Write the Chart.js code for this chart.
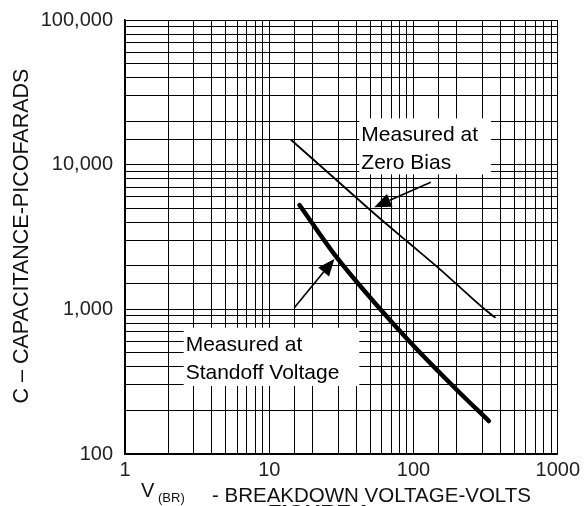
<!DOCTYPE html>
<html>
<head>
<meta charset="utf-8">
<script src="https://cdn.jsdelivr.net/npm/chart.js@4.4.0/dist/chart.umd.min.js"></script>
<style>
  html, body { margin: 0; padding: 0; background: #fff; }
  #wrap { width: 584px; height: 506px; position: relative; }
</style>
</head>
<body>
<div id="wrap"><canvas id="chart"></canvas></div>
<script>
// axis labels shown on the log decades
const xTicks = [1, 10, 100, 1000];
const yTicks = [100, 1000, 10000, 100000];

// curves (volts, picofarads)
const zeroBiasV = [14.2, 26.1, 54.9, 90.8, 150, 316, 367];
const zeroBiasC = [14810, 8660, 4490, 2930, 1920, 989, 881];
const standoffV = [16.2, 29.1, 57.9, 95.9, 200, 333];
const standoffC = [5260, 2310, 1020, 585, 277, 169];

// callouts: white box (x1, x2, y1, y2 in data units) + arrow tail/tip
const notes = [
    { lines: ['Measured at', 'Zero Bias'], box: [42.1, 344, 20900, 8570], from: [131.8, 7570], to: [53.4, 5080] },
    { lines: ['Measured at', 'Standoff Voltage'], box: [2.55, 42.1, 745, 295], from: [14.96, 1031], to: [28.3, 2232] },
];

const FONT = '"Liberation Sans", Arial, sans-serif';

function toPoints(xs, ys) {
    return xs.map((v, i) => ({ x: v, y: ys[i] }));
}

const notesPlugin = {
    id: 'notes',
    beforeDatasetsDraw(chart) {
        const { ctx, scales: { x, y } } = chart;
        ctx.save();
        ctx.fillStyle = '#fff';
        notes.forEach(n => {
            const l = x.getPixelForValue(n.box[0]), r = x.getPixelForValue(n.box[1]);
            const t = y.getPixelForValue(n.box[2]), b = y.getPixelForValue(n.box[3]);
            ctx.fillRect(l, t, r - l, b - t);
        });
        ctx.restore();
    },
    afterDatasetsDraw(chart) {
        const { ctx, scales: { x, y } } = chart;
        ctx.save();
        ctx.fillStyle = '#000';
        ctx.strokeStyle = '#000';
        ctx.font = '21px ' + FONT;
        ctx.textBaseline = 'alphabetic';
        notes.forEach(n => {
            const l = x.getPixelForValue(n.box[0]);
            const t = y.getPixelForValue(n.box[2]);
            n.lines.forEach((s, i) => ctx.fillText(s, l + 2, t + 23 + i * 28));

            // arrow
            const x0 = x.getPixelForValue(n.from[0]), y0 = y.getPixelForValue(n.from[1]);
            const x1 = x.getPixelForValue(n.to[0]), y1 = y.getPixelForValue(n.to[1]);
            const ang = Math.atan2(y1 - y0, x1 - x0);
            const hl = 17, hw = 7;
            const bx = x1 - hl * Math.cos(ang), by = y1 - hl * Math.sin(ang);
            ctx.lineWidth = 1.6;
            ctx.beginPath();
            ctx.moveTo(x0, y0);
            ctx.lineTo(bx, by);
            ctx.stroke();
            ctx.beginPath();
            ctx.moveTo(x1, y1);
            ctx.lineTo(bx + hw * Math.sin(ang), by - hw * Math.cos(ang));
            ctx.lineTo(bx - hw * Math.sin(ang), by + hw * Math.cos(ang));
            ctx.closePath();
            ctx.fill();
        });
        ctx.restore();
    },
    afterDraw(chart) {
        const { ctx } = chart;
        ctx.save();
        ctx.fillStyle = '#111';
        // y title
        ctx.save();
        ctx.translate(28, 236);
        ctx.rotate(-Math.PI / 2);
        ctx.font = '21.5px ' + FONT;
        ctx.textAlign = 'center';
        ctx.fillText('C \u2013 CAPACITANCE-PICOFARADS', 0, 0);
        ctx.restore();
        // x title with subscript
        ctx.font = '20px ' + FONT;
        ctx.fillText('V', 141, 497);
        ctx.font = '13px ' + FONT;
        ctx.fillText('(BR)', 158, 502);
        ctx.font = '20.5px ' + FONT;
        ctx.fillText('- BREAKDOWN VOLTAGE-VOLTS', 212, 502);
        // figure caption, cut off by the bottom edge
        ctx.font = 'bold 22px ' + FONT;
        ctx.fillText('FIGURE 1', 268, 520);
        ctx.restore();
    }
};

const tickFont = { family: FONT, size: 20 };

new Chart(document.getElementById('chart'), {
    type: 'line',
    data: {
        datasets: [
            {
                label: 'Measured at Zero Bias',
                data: toPoints(zeroBiasV, zeroBiasC),
                borderColor: '#000',
                borderWidth: 1.8,
                pointRadius: 0,
                cubicInterpolationMode: 'monotone',
                borderCapStyle: 'round',
            },
            {
                label: 'Measured at Standoff Voltage',
                data: toPoints(standoffV, standoffC),
                borderColor: '#000',
                borderWidth: 4.5,
                pointRadius: 0,
                cubicInterpolationMode: 'monotone',
                borderCapStyle: 'round',
            }
        ]
    },
    options: {
        responsive: true,
        maintainAspectRatio: false,
        animation: false,
        events: [],
        layout: { padding: { top: 20, right: 25, left: 0, bottom: 0 } },
        scales: {
            x: {
                type: 'logarithmic',
                min: 1,
                max: 1000,
                grid: { color: '#000', lineWidth: 1, drawTicks: false },
                border: { color: '#000', width: 1.5 },
                ticks: {
                    autoSkip: false,
                    maxRotation: 0,
                    padding: 4,
                    color: '#222',
                    font: tickFont,
                    callback: v => xTicks.includes(v) ? String(v) : ''
                },
                afterFit: s => { s.height = 52; }
            },
            y: {
                type: 'logarithmic',
                min: 100,
                max: 100000,
                grid: { color: '#000', lineWidth: 1, drawTicks: false },
                border: { color: '#000', width: 1.5 },
                ticks: {
                    autoSkip: false,
                    padding: 12,
                    color: '#222',
                    font: tickFont,
                    callback: v => yTicks.includes(v) ? v.toLocaleString('en-US') : ''
                },
                afterFit: s => {
                    s.width = 125;
                    // keep the plot top where the layout padding puts it
                    s.paddingTop = 0;
                    s.paddingBottom = 0;
                }
            }
        },
        plugins: {
            legend: { display: false },
            tooltip: { enabled: false }
        }
    },
    plugins: [notesPlugin]
});
</script>
</body>
</html>
